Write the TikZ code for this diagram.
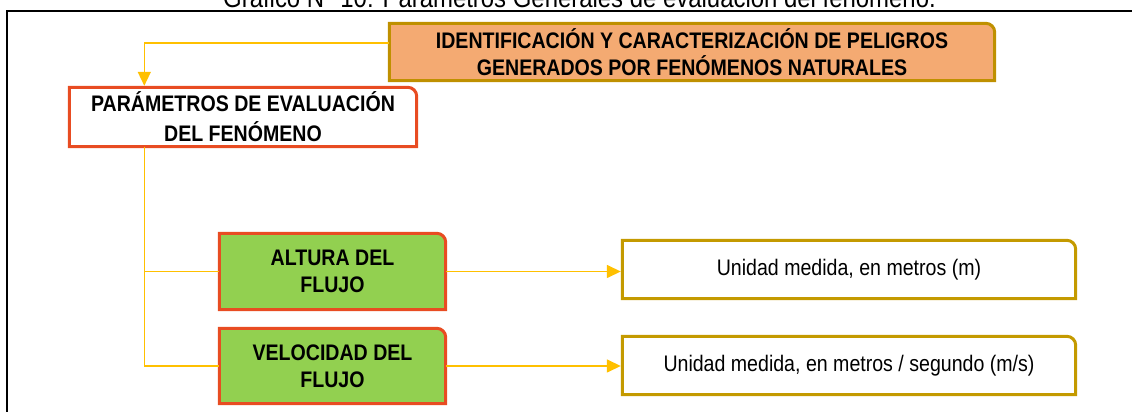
\documentclass[tikz,border=0pt]{standalone}
\usepackage{fontspec}
\setmainfont[FakeStretch=0.87]{Liberation Sans}
\usetikzlibrary{arrows.meta,backgrounds}
\definecolor{linkgold}{HTML}{FFC000}
\definecolor{identfill}{HTML}{F4AA72}
\definecolor{identedge}{HTML}{BF9000}
\definecolor{paramedge}{HTML}{E84C22}
\definecolor{flujofill}{HTML}{92D050}
\definecolor{unitedge}{HTML}{C49A00}

\begin{document}
\begin{tikzpicture}[x=1pt,y=1pt,
  box/.style={rectangle, inner sep=0pt, align=center, font=\bfseries\fontsize{22.5}{27}\selectfont},
  unitbox/.style={rectangle, inner sep=0pt, align=center, font=\fontsize{22.5}{27}\selectfont, minimum width=453pt, minimum height=58pt},
  link/.style={linkgold, line width=1.5pt},
  tip/.style={-{Triangle[length=14pt,width=13pt]}, shorten >=1.5pt}]
  \useasboundingbox (0,0) rectangle (1132,412);
  \node[font=\fontsize{27.5}{30}\selectfont, anchor=base, inner sep=0pt] (title) at (579.5,404.5) {Gráfico N° 10: Parámetros Generales de evaluación del fenómeno.};
  \draw[line width=2pt] (7,0) |- (1132,400.5);
  \node[box, minimum width=605pt, minimum height=57pt] (ident) at (692,360) {IDENTIFICACIÓN Y CARACTERIZACIÓN DE PELIGROS\\GENERADOS POR FENÓMENOS NATURALES};
  \node[box, minimum width=347pt, minimum height=59pt, font=\bfseries\fontsize{22.5}{30}\selectfont] (param) at (243,295) {PARÁMETROS DE EVALUACIÓN\\DEL FENÓMENO};
  \node[box, minimum width=226pt, minimum height=76pt] (altura) at (332.5,140.5) {ALTURA DEL\\FLUJO};
  \node[box, minimum width=226pt, minimum height=75pt] (velocidad) at (332.5,46) {VELOCIDAD DEL\\FLUJO};
  \node[unitbox] (unidad1) at (849,142.5) {Unidad medida, en metros (m)};
  \node[unitbox] (unidad2) at (849,46.5) {Unidad medida, en metros / segundo (m/s)};
  \begin{scope}[on background layer]
    \foreach \n/\c/\f in {ident/identedge/identfill, param/paramedge/white, altura/paramedge/flujofill, velocidad/paramedge/flujofill, unidad1/unitedge/white, unidad2/unitedge/white}
      \filldraw[line width=3pt, draw=\c, fill=\f] (\n.south west) |- ([xshift=-9pt]\n.north east) arc[start angle=90, end angle=0, radius=9pt] -- (\n.south east) -- cycle;
  \end{scope}
  \draw[link, tip] ([yshift=9pt]ident.west) -| ([xshift=75pt]param.north west);
  \draw[link] ([xshift=75pt]param.south west) |- (altura.west);
  \draw[link] ([xshift=75pt]param.south west) |- (velocidad.west);
  \draw[link, tip] (altura.east) -- (altura.east -| unidad1.west);
  \draw[link, tip] (velocidad.east) -- (velocidad.east -| unidad2.west);
\end{tikzpicture}
\end{document}
